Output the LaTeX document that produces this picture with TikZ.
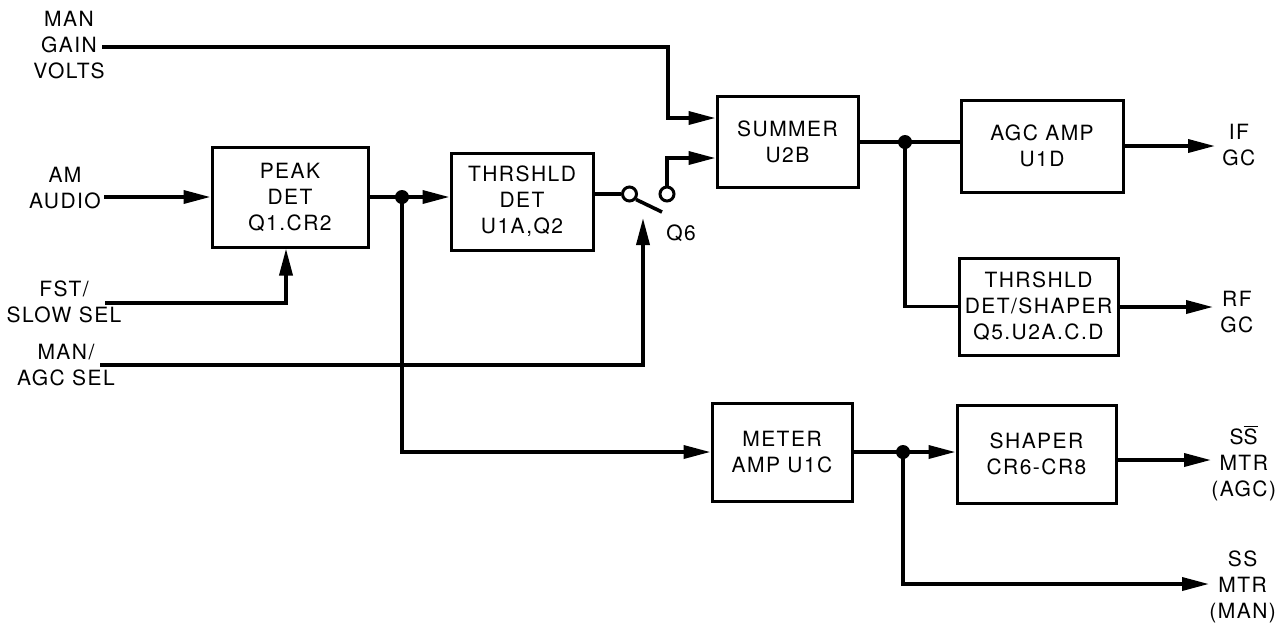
\documentclass[tikz,border=0pt]{standalone}
\usepackage{fontspec}
\setmainfont[LetterSpace=7]{TeX Gyre Heros}
\usetikzlibrary{arrows.meta,calc}
\begin{document}
\begin{tikzpicture}[x=0.5pt,y=-0.5pt,
  font=\fontsize{10.5}{13}\selectfont,
  blk/.style={draw,line width=1.5pt,align=center,inner sep=0pt},
  lbl/.style={align=center,inner sep=0pt},
  wire/.style={line width=1.8pt},
  arr/.style={wire,-{Triangle[length=13.5pt,width=6.5pt]}},
  jdot/.style={circle,fill,inner sep=0pt,minimum size=7pt},
  sw/.style={circle,draw,line width=1.5pt,inner sep=0pt,minimum size=7pt}]
\useasboundingbox (0,0) rectangle (1275,634);
% blocks
\node[blk,minimum width=78pt,minimum height=50pt] (peak) at (290,197) {PEAK\\DET\\Q1.CR2};
\node[blk,minimum width=71pt,minimum height=48.5pt] (thr) at (522,201.5) {THRSHLD\\DET\\U1A,Q2};
\node[blk,minimum width=70.5pt,minimum height=45.5pt] (sum) at (787.5,142) {SUMMER\\U2B};
\node[blk,minimum width=81pt,minimum height=46pt] (agc) at (1042,146) {AGC AMP\\U1D};
\node[blk,minimum width=79.5pt,minimum height=48.5pt] (tds) at (1038.5,306.5) {THRSHLD\\DET/SHAPER\\Q5.U2A.C.D};
\node[blk,minimum width=70pt,minimum height=49pt] (meter) at (782,452) {METER\\AMP U1C};
\node[blk,minimum width=79.5pt,minimum height=49pt] (shaper) at (1036.5,454) {SHAPER\\CR6-CR8};
% left labels
\node[lbl] (mgv) at (69,45) {MAN\\GAIN\\VOLTS};
\node[lbl] (ama) at (65,188) {AM\\AUDIO};
\node[lbl] (fst) at (64,302) {FST/\\SLOW SEL};
\node[lbl] (mas) at (66,365) {MAN/\\AGC SEL};
% right labels
\node[lbl,anchor=west] (ifgc) at (1222,145) {IF\\GC};
\node[lbl,anchor=west] (rfgc) at (1220,312) {RF\\GC};
\node[lbl,anchor=west] (ssagc) at (1211,463) {S$\overline{\hbox{S}}$\\MTR\\(AGC)};
\node[lbl,anchor=west] (ssman) at (1209,587) {SS\\MTR\\(MAN)};
\node[lbl] (q6) at (681,233) {Q6};
% coordinates
\coordinate (mgvS) at (102,47);
\coordinate (mgvC) at (668,47);
\coordinate (amS) at (104,197);
\coordinate (fstS) at (105,303);
\coordinate (masS) at (100,365);
\coordinate (masT) at (643,218);
\coordinate (dA) at (402,197);
\coordinate (dB) at (905,142);
\coordinate (dC) at (903,452);
\coordinate (ifT) at (1215,146);
\coordinate (rfT) at (1213,307);
\coordinate (ssaT) at (1211,460);
\coordinate (ssmT) at (1209,584);
\coordinate (lvE) at (662,212);
% switch
\node[sw] (swL) at (629.5,194) {};
\node[sw] (swR) at (667,194) {};
% connectors
\draw[arr] (mgvS) -- (mgvC) |- ($(sum.west)+(0,-24)$);
\draw[arr] (swR.north) |- ($(sum.west)+(0,16)$);
\draw[wire] (thr.east |- swL) -- (swL.west);
\draw[wire] (swL.-40) -- (lvE);
\draw[arr] (amS) -- (amS -| peak.west);
\draw[arr] (fstS) -| (peak.south -| 286,0);
\draw[arr] (masS) -| (masT);
\draw[wire] (peak.east |- dA) -- (dA);
\draw[arr] (dA) -- (dA -| thr.west);
\draw[arr] (dA) |- (meter.west);
\draw[wire] (sum.east) -- (dB) -- (dB -| agc.west);
\draw[wire] (dB) |- (tds.west);
\draw[arr] (agc.east |- ifT) -- (ifT);
\draw[arr] (tds.east |- rfT) -- (rfT);
\draw[wire] (meter.east |- dC) -- (dC);
\draw[arr] (dC) -- (dC -| shaper.west);
\draw[arr] (dC) |- (ssmT);
\draw[arr] (shaper.east |- ssaT) -- (ssaT);
\node[jdot] at (dA) {};
\node[jdot] at (dB) {};
\node[jdot] at (dC) {};
\end{tikzpicture}
\end{document}
